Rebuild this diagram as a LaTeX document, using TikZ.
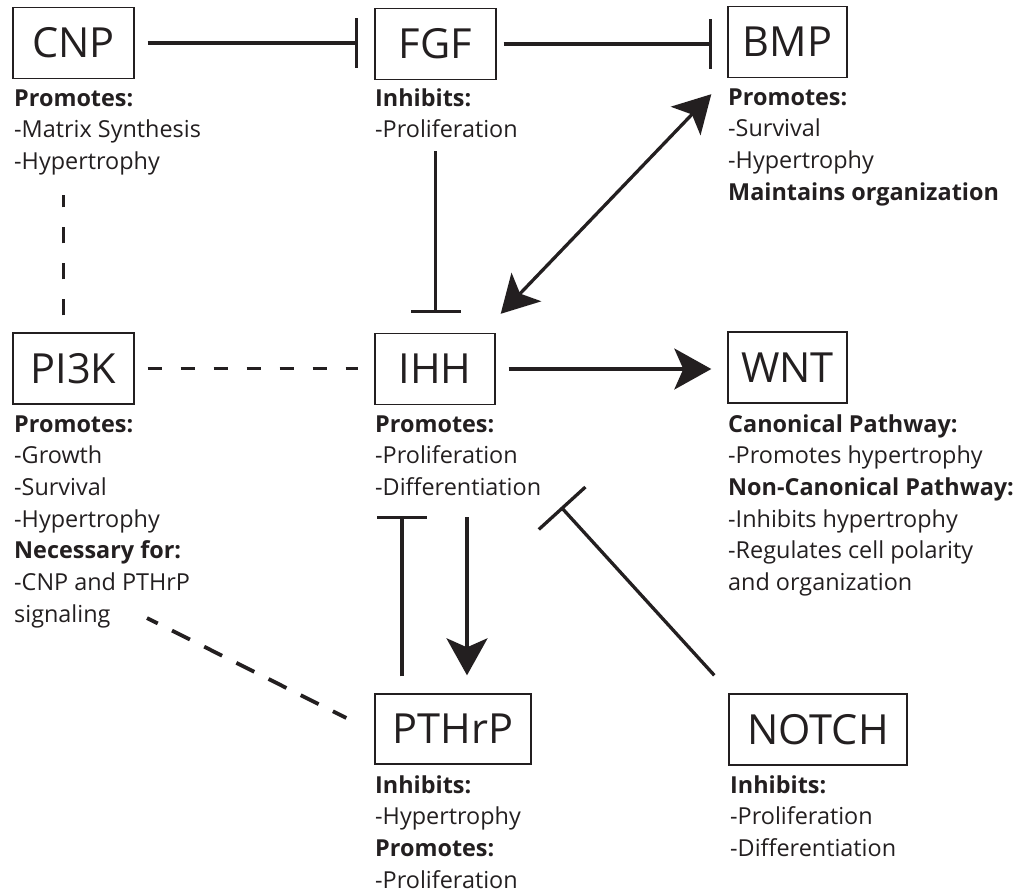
\documentclass[tikz,border=0pt]{standalone}
\usepackage{fontspec}
\setmainfont{Open Sans}
\usetikzlibrary{arrows.meta,calc}
\definecolor{ink}{HTML}{231F20}
\begin{document}
\begin{tikzpicture}[x=1pt,y=-1pt,
  box/.style={draw=ink,line width=1.4pt,minimum height=71pt,inner sep=0pt,
    font=\fontsize{41.5}{50}\selectfont,text=ink},
  lbl/.style={anchor=base west,inner sep=0pt,text=ink,
    font=\fontsize{23.4}{31.7}\selectfont},
  con/.style={draw=ink,line width=3.3pt},
  inh/.style={con,-{Bar[width=50pt]}},
  act/.style={con,-{Stealth[length=37pt,width=41pt,inset=9pt]}},
  dact/.style={con,{Stealth[length=37pt,width=41pt,inset=9pt]}-{Stealth[length=37pt,width=41pt,inset=9pt]}},
  dsh/.style={con,line width=3.8pt,dash pattern=on 15pt off 19pt}
]
\useasboundingbox (0,0) rectangle (1027,895);
\newcommand{\vl}[1]{\vtop{#1}}
% boxes
\node[box,minimum width=121pt] (cnp) at (73.5,43) {CNP};
\node[box,minimum width=121pt] (fgf) at (435.5,44) {FGF};
\node[box,minimum width=119pt] (bmp) at (787.5,42) {BMP};
\node[box,minimum width=121pt] (pi3k) at (73.5,368.5) {PI3K};
\node[box,minimum width=120pt] (ihh) at (435,369) {IHH};
\node[box,minimum width=119pt] (wnt) at (787.5,367.5) {WNT};
\node[box,minimum width=156pt,minimum height=70pt] (pthrp) at (453,729) {PTHrP};
\node[box,minimum width=178pt] (notch) at (818,729.5) {NOTCH};
% labels
\node[lbl] (cnpL) at (14,106) {\vl{\hbox{\bfseries Promotes:}\hbox{-Matrix Synthesis}\hbox{-Hypertrophy}}};
\node[lbl] (fgfL) at (375,106) {\vl{\hbox{\bfseries Inhibits:}\hbox{-Proliferation}}};
\node[lbl] (bmpL) at (728,105) {\vl{\hbox{\bfseries Promotes:}\hbox{-Survival}\hbox{-Hypertrophy}\hbox{\bfseries Maintains organization}}};
\node[lbl] (pi3kL) at (14,432) {\vl{\hbox{\bfseries Promotes:}\hbox{-Growth}\hbox{-Survival}\hbox{-Hypertrophy}\hbox{\bfseries Necessary for:}\hbox{-CNP and PTHrP}\hbox{signaling}}};
\node[lbl] (ihhL) at (375,432) {\vl{\hbox{\bfseries Promotes:}\hbox{-Proliferation}\hbox{-Differentiation}}};
\node[lbl] (wntL) at (728,432) {\vl{\hbox{\bfseries Canonical Pathway:}\hbox{-Promotes hypertrophy}\hbox{\bfseries Non-Canonical Pathway:}\hbox{-Inhibits hypertrophy}\hbox{-Regulates cell polarity}\hbox{and organization}}};
\node[lbl] (pthrpL) at (375,793) {\vl{\hbox{\bfseries Inhibits:}\hbox{-Hypertrophy}\hbox{\bfseries Promotes:}\hbox{-Proliferation}}};
\node[lbl] (notchL) at (730,793) {\vl{\hbox{\bfseries Inhibits:}\hbox{-Proliferation}\hbox{-Differentiation}}};
% free ends
\coordinate (dn) at (467,517);
\coordinate (up) at (402,516);
\coordinate (nb) at (561,507);
\coordinate (sig) at (147,618);
% connectors
\draw[inh,shorten <=13pt,shorten >=16pt] (cnp.east) -- (cnp.east -| fgf.west);
\draw[inh,shorten <=7pt,shorten >=15pt] (fgf.east) -- (fgf.east -| bmp.west);
\draw[inh,shorten <=71pt,shorten >=20pt] (fgf.south) -- (fgf.south |- ihh.north);
\draw[dact] ([shift={(5,-19)}]ihh.north east) -- ([shift={(-16,16)}]bmp.south west);
\draw[dsh,dash pattern=on 16pt off 20pt,shorten <=17pt,shorten >=116pt] ([shift={(-10,0)}]pi3k.north) -- ([shift={(-10,0)}]cnp.south);
\draw[dsh,dash pattern=on 14pt off 19pt,shorten <=13pt,shorten >=16pt] (pi3k.east) -- (pi3k.east -| ihh.west);
\draw[act,shorten <=13pt,shorten >=16pt] (ihh.east) -- (ihh.east -| wnt.west);
\draw[act,shorten >=18pt] (dn) -- (dn |- pthrp.north);
\draw[inh,shorten <=17pt] (up |- pthrp.north) -- (up);
\draw[con,-{Bar[width=63pt]}] ([shift={(-14,-18)}]notch.north west) -- (nb);
\draw[dsh,dash pattern=on 20pt off 16pt,dash phase=8pt] (sig) -- ([shift={(-28,-11)}]pthrp.west);
\end{tikzpicture}
\end{document}
